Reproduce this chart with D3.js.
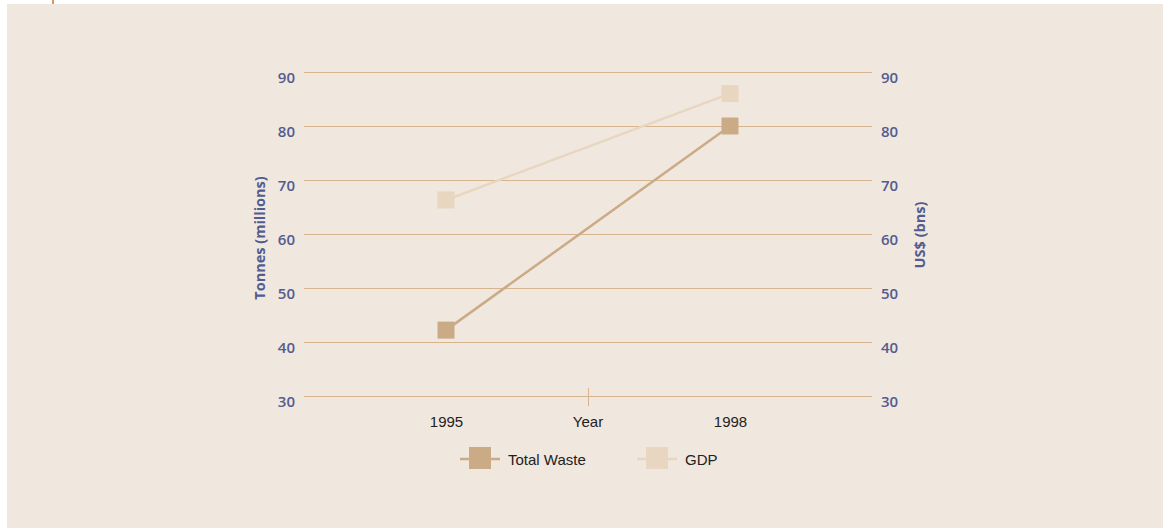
<!DOCTYPE html>
<html><head><meta charset="utf-8">
<script src="https://cdn.jsdelivr.net/npm/d3@7"></script>
<style>body{margin:0;background:#fff}svg{display:block}</style>
</head><body>
<svg id="c" width="1168" height="528"></svg>
<script>
const years = ["1995", "1998"];
const totalWaste = [42.2, 80];
const gdp = [66.3, 86];
const yTicks = [30, 40, 50, 60, 70, 80, 90];
const seriesNames = ["Total Waste", "GDP"];
const seriesColors = ["#cbab86", "#e8d6c0"];

const svg = d3.select("#c");
svg.append("rect").attr("x", 7).attr("y", 4).attr("width", 1156).attr("height", 524).attr("fill", "#f0e7df");
svg.append("rect").attr("x", 52).attr("y", 0).attr("width", 2).attr("height", 4).attr("fill", "#d09a66");

const x0 = 304, x1 = 872;
const y = d3.scaleLinear().domain([30, 90]).range([396, 72]);
const yR = d3.scaleLinear().domain([30, 90]).range([396, 72]);
const xs = d3.scalePoint().domain(years).range([446, 730]);

const grid = "#d6b48d";
svg.append("g").selectAll("line").data(yTicks).join("line")
  .attr("x1", x0).attr("x2", x1).attr("y1", d => y(d) + 0.5).attr("y2", d => y(d) + 0.5)
  .attr("stroke", grid).attr("stroke-width", 1);

const tickFont = "'Open Sans', 'Noto Sans', sans-serif";
const tickColor = "#535c8f";
const leftAxis = d3.axisLeft(y).tickValues(yTicks).tickSize(0).tickPadding(9);
const gl = svg.append("g").attr("transform", `translate(${x0},0)`).call(leftAxis);
const rightAxis = d3.axisRight(yR).tickValues(yTicks).tickSize(0).tickPadding(9);
const gr = svg.append("g").attr("transform", `translate(${x1},0)`).call(rightAxis);
[gl, gr].forEach(g => {
  g.select(".domain").remove();
  g.selectAll("text").attr("font-family", tickFont).attr("font-size", 15).attr("font-weight", 600)
    .attr("fill", tickColor).attr("dy", "0.72em").attr("y", 0);
});

svg.append("text").attr("transform", "translate(265,238) rotate(-90)")
  .attr("text-anchor", "middle").attr("font-family", tickFont).attr("font-weight", "bold")
  .attr("font-size", 14.5).attr("fill", tickColor).text("Tonnes (millions)");
svg.append("text").attr("transform", "translate(925,235) rotate(-90)")
  .attr("text-anchor", "middle").attr("font-family", tickFont).attr("font-weight", "bold")
  .attr("font-size", 14.5).attr("fill", tickColor).text("US$ (bns)");

// x axis labels
const labFont = "'Liberation Sans', Arial, sans-serif";
const xAxis = d3.axisBottom(xs).tickSize(0).tickPadding(0);
const gx = svg.append("g").attr("transform", "translate(0,396)").call(xAxis);
gx.select(".domain").remove();
gx.selectAll("text").attr("font-family", labFont).attr("font-size", 15).attr("fill", "#222").attr("dy", null).attr("y", 31);
svg.append("line").attr("x1", 588.5).attr("x2", 588.5).attr("y1", 388).attr("y2", 406).attr("stroke", grid).attr("stroke-width", 1);
svg.append("text").attr("x", 588).attr("y", 427).attr("text-anchor", "middle")
  .attr("font-family", labFont).attr("font-size", 15).attr("fill", "#222").text("Year");

const line = d3.line().x((d, i) => xs(years[i])).y(d => y(d));
const series = [gdp, totalWaste];
const cols = [seriesColors[1], seriesColors[0]];
series.forEach((s, k) => {
  svg.append("path").datum(s).attr("d", line).attr("fill", "none").attr("stroke", cols[k]).attr("stroke-width", 2.5);
  svg.append("g").selectAll("rect").data(s).join("rect")
    .attr("x", (d, i) => xs(years[i]) - 8.5).attr("y", d => y(d) - 8.5)
    .attr("width", 17).attr("height", 17).attr("fill", cols[k]);
});

// legend
const leg = [{name: seriesNames[0], c: seriesColors[0], cx: 480}, {name: seriesNames[1], c: seriesColors[1], cx: 657}];
leg.forEach(l => {
  svg.append("line").attr("x1", l.cx - 20).attr("x2", l.cx + 20).attr("y1", 459).attr("y2", 459).attr("stroke", l.c).attr("stroke-width", 2.5);
  svg.append("rect").attr("x", l.cx - 11).attr("y", 447).attr("width", 22).attr("height", 22).attr("fill", l.c);
  svg.append("text").attr("x", l.cx + 28).attr("y", 465).attr("font-family", labFont)
    .attr("font-size", 15).attr("fill", "#222").text(l.name);
});
</script>
</body></html>
